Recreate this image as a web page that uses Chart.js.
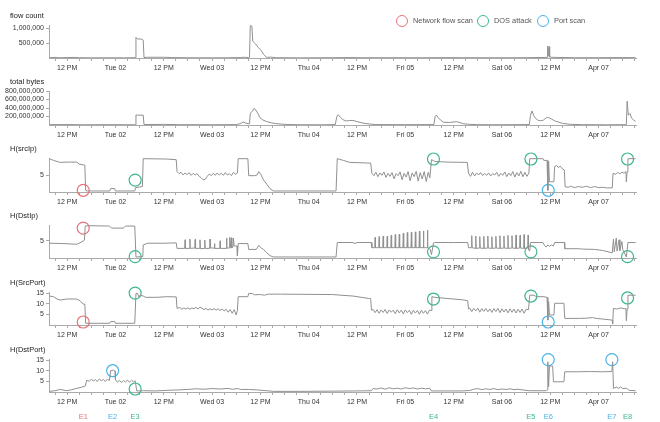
<!DOCTYPE html>
<html>
<head>
<meta charset="utf-8">
<script src="https://cdn.jsdelivr.net/npm/chart.js@4.4.0/dist/chart.umd.min.js"></script>
<style>
  body { margin: 0; background: #fff; }
  #wrap { position: relative; width: 660px; height: 422px; overflow: hidden; font-family: "Liberation Sans", Arial, sans-serif; }
  canvas.panel { position: absolute; left: 0; }
  .leg { position: absolute; top: 15px; height: 12px; line-height: 12px; font-size: 7.4px; color: #555; white-space: nowrap; }
  .leg i { display: inline-block; box-sizing: border-box; width: 12px; height: 12px; border: 1.2px solid; border-radius: 50%; vertical-align: top; margin-right: 5px; }
</style>
</head>
<body>
<div id="wrap"></div>
<script>
// time axis is in hours since Apr 01 00:00
const dayLabels = ['Tue 02', 'Wed 03', 'Thu 04', 'Fri 05', 'Sat 06', 'Apr 07'];

// [hour, value]
const flowCount = [[7.6,10000],[9,20000],[10,8000],[12,15000],[14,20000],[15,10000],[18,5000],[22,8000],[26,6000],[28.9,10000],
  [29.1,690000],[29.4,640000],[30.3,630000],[30.7,620000],[30.9,600000],[31.1,15000],[32,25000],[36,25000],[38,15000],[42,8000],
  [48,6000],[52,8000],[55,15000],[56,25000],[57,15000],[57.3,20000],[57.5,1080000],[57.9,1060000],[58.1,560000],[58.8,470000],
  [59.5,350000],[60.2,250000],[60.8,120000],[61.5,20000],[62.5,30000],[64,10000],[70,5000],[78,10000],[82,15000],[86,8000],
  [92,10000],[100,8000],[106,12000],[110,10000],[118,8000],[126,10000],[128,15000],[131.2,20000],[131.35,400000],[131.5,60000],
  [131.7,380000],[131.85,30000],[133,20000],[138,10000],[144,10000],[150,15000],[153.2,10000]];

const totalBytes = [[7.6,8e6],[12,10e6],[16,6e6],[22,8e6],[28.9,6e6],[29.1,235e6],[29.5,232e6],[30.9,230e6],[31.1,10e6],[36,15e6],
  [40,8e6],[48,6e6],[54,10e6],[55,30e6],[55.8,70e6],[56.5,40e6],[57.3,30e6],[57.5,280e6],[58,320e6],[58.4,390e6],[58.9,350e6],
  [59.4,270e6],[59.9,170e6],[60.6,120e6],[61.6,80e6],[62.8,50e6],[64.1,30e6],[66.6,12e6],[70,6e6],[76,5e6],[78.6,10e6],
  [79,200e6],[79.3,240e6],[79.8,190e6],[80.5,125e6],[81.3,95e6],[82.2,105e6],[83,108e6],[84,80e6],[85.5,45e6],[87,25e6],
  [88.5,10e6],[96,8e6],[103.1,10e6],[103.4,200e6],[103.7,235e6],[104.2,170e6],[104.7,120e6],[105.5,65e6],[107,60e6],
  [108.8,78e6],[109.8,50e6],[110.4,30e6],[112,15e6],[114,8e6],[120,6e6],[126.8,10e6],[127.1,230e6],[127.5,330e6],[127.9,220e6],
  [128.3,160e6],[129,110e6],[129.6,100e6],[130.3,115e6],[131,170e6],[131.6,175e6],[132.3,140e6],[133.3,90e6],[135,40e6],
  [137,15e6],[140,8e6],[146,5e6],[150.9,8e6],[151.1,560e6],[151.4,230e6],[151.8,270e6],[152.2,160e6],[152.7,120e6],[153.2,85e6]];

const srcIp = [[7.6,9.8],[8.6,9.3],[10.3,8.7],[12,8.8],[14.4,8.8],[15,8.2],[16,8.0],[16.4,7.9],[16.6,0.5],[17,0.3],[22.6,0.3],
  [22.8,1.0],[23.8,1.0],[24,0.3],[28.8,0.3],[29,1.3],[30.7,1.6],[30.9,9.8],[36.7,9.7],[39.1,9.5],[39.3,6.0],
  [39.8,5.4],[40.3,5.8],[40.8,5.0],[41.3,5.6],[41.8,5.1],[42.3,5.7],[42.8,4.9],[43.3,5.5],[43.8,5.0],[44.3,5.4],[44.8,4.6],
  [45.3,4.2],[45.8,3.6],[46.3,3.7],[46.8,4.6],[47.3,5.3],[47.8,4.8],[48.3,5.5],[48.8,4.9],[49.3,5.6],[49.8,5.0],[50.3,5.5],
  [50.8,4.9],[51.3,5.7],[51.8,5.0],[52.3,5.4],[52.8,4.8],[53.3,5.8],[53.8,5.2],[54.3,5.6],[54.5,9.8],[56.9,9.8],[57.1,4.8],
  [58.5,4.8],[59.2,5.0],[59.6,6.0],[60.1,5.2],[60.8,3.5],[61.6,2.3],[62.4,1.0],[63.2,0.3],[78.8,0.3],
  [79.1,9.8],[80.6,9.3],[82.2,8.7],[87.4,8.5],[87.7,5.5],[88.2,4.8],[88.7,5.8],[89.2,4.5],[89.7,5.6],[90.2,4.9],[90.7,5.9],
  [91.2,4.3],[91.7,5.5],[92.2,4.6],[92.7,5.7],[93.2,3.9],[93.7,5.4],[94.2,4.8],[94.7,5.9],[95.2,3.6],[95.7,5.5],[96.2,4.4],
  [96.7,6.0],[97.2,3.3],[97.7,5.6],[98.2,4.5],[98.7,6.1],[99.2,3.2],[99.7,5.7],[100.2,3.8],[100.7,6.0],[101.2,3.1],[101.7,5.8],
  [102.1,4.2],[102.5,9.5],[103.3,9.0],[106,8.8],[111.4,8.7],[111.7,5.5],
  [112.2,4.6],[112.7,5.8],[113.2,4.7],[113.7,5.6],[114.2,5.0],[114.7,5.7],[115.2,4.8],[115.7,5.5],[116.2,4.9],[116.7,5.6],
  [117.2,4.7],[117.7,5.4],[118.2,5.0],[118.7,5.8],[119.2,4.6],[119.7,5.5],[120.2,4.9],[120.7,5.9],[121.2,4.5],[121.7,5.6],
  [122.2,4.8],[122.7,6.0],[123.2,4.4],[123.7,5.7],[124.2,4.7],[124.7,6.1],[125.2,4.5],[125.7,5.8],[126.2,4.6],[126.7,5.6],
  [126.9,9.8],[130.2,9.8],[130.4,9.3],[131.2,9.3],[131.4,0.5],[131.6,9.0],[131.8,3.0],[132.9,3.0],[133.1,7.5],[133.6,7.8],
  [134,7.2],[134.5,7.6],[135,6.8],[135.5,6.5],[135.7,1.5],[136.5,1.4],[137,1.7],[138,1.3],[139,1.6],[140,1.4],[141,1.7],
  [142,1.3],[143,1.6],[144,1.3],[145,1.4],[146,1.2],[147.4,1.2],[147.6,5.5],[148.3,5.2],[148.8,5.8],[149.3,5.3],[149.8,5.9],
  [150.3,5.5],[150.8,6.0],[150.9,3.0],[151.1,6.0],[151.3,9.8],[153.2,9.8]];

const dstIp = [[7.6,4.3],[11,4.2],[14.4,4.0],[15.5,4.6],[16.3,5.2],[16.5,9.3],[17.2,9.4],[22.5,9.3],[23,8.7],[26,8.7],[26.5,9.3],
  [28.8,9.3],[29.1,0.3],[30.8,0.4],[30.9,3.8],[32,4.3],[36,4.3],[39.1,4.4],[39.3,2.8],
  [41.2,2.8],[41.3,5.3],[41.4,2.8],[42.4,2.8],[42.5,5.5],[42.6,2.8],[43.7,2.9],[43.8,5.4],[43.9,2.8],[44.9,2.8],[45,5.3],
  [45.1,2.7],[46.1,2.8],[46.2,5.2],[46.3,2.8],[47.4,2.8],[47.5,5.5],[47.6,2.9],[48.5,2.9],[48.6,4.2],[48.7,2.8],[49.9,2.8],
  [50,5.0],[50.1,2.8],[51.5,2.8],[51.6,5.8],[51.7,2.9],[52.3,2.9],[52.4,6.0],[52.5,3.0],[52.7,3.0],[52.8,5.9],[52.9,2.9],
  [53.2,3.2],[53.3,5.8],[53.5,3.5],[54.2,3.5],[54.3,0.6],[54.5,4.2],[56.9,4.2],[57.1,2.5],[59,2.5],[59.6,3.7],[60.1,3.0],
  [60.8,2.5],[61.6,1.5],[62.4,0.7],[63.2,0.3],[78.8,0.3],
  [79.1,4.5],[83,4.5],[83.5,4.2],[84,4.5],[87.5,4.5],[87.7,3.0],
  [88.4,3.0],[88.5,6.0],[88.6,3.0],[89.4,3.0],[89.5,6.2],[89.6,3.0],[90.4,3.0],[90.5,6.4],[90.6,3.0],[91.4,3.0],[91.5,6.3],
  [91.6,3.0],[92.4,3.0],[92.5,6.6],[92.6,3.0],[93.4,3.0],[93.5,6.8],[93.6,3.0],[94.4,3.0],[94.5,6.9],[94.6,3.0],[95.4,3.0],
  [95.5,7.2],[95.6,3.0],[96.4,3.0],[96.5,7.4],[96.6,3.0],[97.4,3.0],[97.5,7.5],[97.6,3.0],[98.4,3.0],[98.5,7.6],[98.6,3.0],
  [99.4,3.0],[99.5,7.8],[99.6,3.0],[100.4,3.0],[100.5,7.9],[100.6,3.0],[101.4,3.0],[101.5,8.1],[101.6,3.0],[102.2,2.5],
  [102.5,1.0],[103,4.4],[103.3,4.5],[108,4.5],[111.5,4.5],[111.7,3.0],
  [112.4,3.0],[112.5,6.5],[112.6,3.0],[113.4,2.8],[113.5,6.4],[113.6,2.8],[114.4,2.9],[114.5,6.2],[114.6,2.9],[115.4,2.8],
  [115.5,6.3],[115.6,2.8],[116.4,2.9],[116.5,6.4],[116.6,2.9],[117.4,2.8],[117.5,6.2],[117.6,2.8],[118.4,2.9],[118.5,6.3],
  [118.6,2.9],[119.4,2.8],[119.5,6.5],[119.6,2.8],[120.4,2.9],[120.5,6.4],[120.6,2.9],[121.4,2.8],[121.5,6.6],[121.6,2.8],
  [122.4,2.9],[122.5,6.5],[122.6,2.9],[123.4,2.8],[123.5,6.7],[123.6,2.8],[124.4,2.9],[124.5,6.6],[124.6,2.9],[125.4,2.8],
  [125.5,6.8],[125.6,2.8],[126.4,2.9],[126.5,6.7],[126.6,2.5],[126.9,2.0],[127.1,4.5],[130.2,4.5],[130.6,3.6],[131,3.2],
  [131.4,3.8],[131.8,3.4],[132.3,3.8],[132.8,3.5],[133.1,4.5],[135.5,4.5],[135.6,2.7],[139,2.7],[140,2.6],[143,2.5],
  [145,2.2],[147.4,1.5],[147.7,5.5],[147.9,1.8],[148.4,5.8],[148.6,2.0],[149.1,5.3],[149.3,2.2],[149.8,4.8],[150,2.5],
  [150.9,0.3],[151.3,4.5],[153.2,4.5]];

const srcPort = [[7.6,13.6],[8.6,13.3],[9.5,12.2],[10.3,11.7],[11.9,12.2],[14.4,12.2],[15.2,11.4],[16,9.8],[16.4,9.8],[16.6,0.8],
  [22.6,0.8],[22.8,1.6],[23.8,1.6],[24,0.8],[28.8,0.8],[29.1,14.8],[29.5,14.8],[29.8,13.2],[30.1,14.0],[30.9,13.6],[31.5,13.0],
  [34.3,13.0],[36.7,13.3],[39.1,13.2],[39.3,7.8],
  [40,8.2],[40.5,7.4],[41,8.0],[41.5,7.5],[42,8.1],[42.5,7.4],[43,8.0],[43.5,7.6],[44,8.3],[44.5,7.5],[45,8.4],[45.5,7.9],
  [46,7.2],[46.5,7.8],[47,7.0],[47.5,7.6],[48,7.1],[48.5,7.7],[49,7.0],[49.5,7.6],[50,6.8],[50.5,7.5],[51,6.6],[51.5,7.4],
  [52,6.0],[52.5,7.3],[53,5.5],[53.5,7.2],[54,4.7],[54.3,7.0],[54.5,13.3],[56.9,13.3],[57.1,14.8],[58,14.8],[58.5,14.2],
  [60,14.3],[61,14.0],[62,14.5],[65,14.5],[78,14.3],
  [80,14.0],[83,13.6],[86.8,12.5],[87.4,12.4],[87.6,7.0],
  [88,7.3],[88.5,5.8],[89,7.2],[89.5,5.5],[90,7.1],[90.5,5.9],[91,7.3],[91.5,5.4],[92,7.1],[92.5,6.0],[93,7.0],[93.5,5.3],
  [94,7.2],[94.5,5.7],[95,7.0],[95.5,5.2],[96,7.1],[96.5,5.8],[97,6.9],[97.5,5.0],[98,7.0],[98.5,5.6],[99,6.8],[99.5,5.0],
  [100,7.0],[100.5,5.5],[101,6.8],[101.5,5.1],[102,7.0],[102.4,6.8],[102.6,13.3],[103.3,13.0],[106.2,12.5],[110.3,11.8],
  [111.5,11.4],[111.7,7.5],
  [112,8.0],[112.5,6.3],[113,7.8],[113.5,6.6],[114,7.9],[114.5,6.0],[115,7.7],[115.5,6.4],[116,7.8],[116.5,6.2],[117,7.6],
  [117.5,5.9],[118,7.7],[118.5,6.3],[119,7.8],[119.5,5.8],[120,7.6],[120.5,6.1],[121,7.5],[121.5,5.7],[122,7.6],[122.5,6.0],
  [123,7.5],[123.5,5.6],[124,7.4],[124.5,5.9],[125,7.5],[125.5,5.5],[126,7.4],[126.6,7.2],[126.9,14.0],[128,14.0],[128.5,13.3],
  [130.2,13.3],[131.2,13.0],[131.4,2.3],[131.6,11.0],[131.8,4.7],[132.9,4.7],[133.1,10.2],[135.4,10.2],[135.6,3.1],[139.3,3.1],
  [141,3.2],[142.5,3.5],[143.4,3.1],[145,2.8],[147.4,2.3],[147.5,0.5],[147.7,7.8],[148.5,7.5],[149.5,8.0],[150.5,7.6],
  [150.8,7.8],[150.9,2.0],[151.1,7.5],[151.3,14.0],[153.2,14.0]];

const dstPort = [[7.6,0.3],[9,0.6],[10.3,1.2],[11.9,0.6],[13,1.0],[14.4,1.7],[15.5,2.2],[16.5,2.8],[16.9,5.6],[17.5,5.0],[18,6.0],
  [18.5,5.2],[19,5.8],[19.5,4.9],[20,6.1],[20.5,5.3],[21,5.9],[21.5,5.0],[22,6.0],[22.5,5.4],[22.8,10.0],[23.5,10.3],[23.9,9.8],
  [24,5.8],[24.5,4.6],[25,5.5],[25.5,4.5],[26,5.4],[26.5,4.7],[27,5.6],[27.5,4.6],[28,5.5],[28.5,4.8],[28.9,5.3],[29.3,0.5],
  [31,0.6],[34,0.5],[37,0.8],[40,1.0],[42,1.2],[44,1.5],[46,1.3],[48,1.6],[50,1.4],[52,1.7],[53,1.3],[54.5,1.6],[55,1.2],
  [57,1.2],[59,1.0],[61.6,0.6],[63.2,0.3],[70,0.3],[78,0.4],
  [84,0.5],[87.6,0.6],[88,1.6],[89,1.4],[90,1.9],[91,1.3],[92,2.0],[93,1.5],[94,1.8],[95,1.4],[96,2.0],[97,1.6],[98,1.9],
  [99,1.4],[100,1.8],[101,1.5],[102.1,1.7],[102.5,0.5],[106,0.5],[110,0.5],[112,0.7],[113,1.3],[114,1.6],[115,1.1],[116,1.5],
  [117,1.2],[118,1.6],[119,1.1],[120,1.4],[121,1.2],[122,1.5],[123,1.1],[124,1.3],[125,1.0],[126.9,0.6],[131,0.6],[131.2,1.0],
  [131.4,14.2],[131.6,2.5],[131.8,12.2],[132.6,12.2],[132.8,4.8],[135.4,4.8],[135.6,9.5],[139,9.5],[142,9.6],[145,9.5],
  [147.3,9.6],[147.5,14.2],[147.7,1.7],[148.5,2.3],[149,1.7],[149.5,2.4],[150,1.6],[151,1.8],[151.5,0.8],[153.2,0.6]];

// events
const eventNames = ['E1', 'E2', 'E3', 'E4', 'E5', 'E6', 'E7', 'E8'];
const eventHours = [16.0, 23.3, 28.9, 103.0, 127.2, 131.5, 147.3, 151.2];
const eventKinds = ['flow', 'port', 'dos', 'dos', 'dos', 'port', 'port', 'dos'];
const kindLabels = { flow: 'Network flow scan', dos: 'DOS attack', port: 'Port scan' };
const kindColors = { flow: '#e8737a', dos: '#3db88a', port: '#4ab3e6' };

// [event index, value where the circle sits]
const srcIpMarks = [[0,0.5],[2,3.5],[3,9.7],[4,9.7],[5,0.5],[7,9.7]];
const dstIpMarks = [[0,8.7],[2,0.4],[3,1.8],[4,1.8],[7,0.4]];
const srcPortMarks = [[0,1.4],[2,15.0],[3,12.2],[4,13.6],[5,1.4],[7,12.7]];
const dstPortMarks = [[1,10.0],[2,1.4],[5,15.2],[6,15.2]];

const xTickHours = [];
for (let h = 9; h <= 153; h += 3) xTickHours.push(h);

const FONT = '"Liberation Sans", Arial, sans-serif';
const wrap = document.getElementById('wrap');

function hourLabel(v) {
  if (v % 24 === 12) return '12 PM';
  if (v % 24 === 0) return dayLabels[v / 24 - 1] || '';
  return '';
}

// panel title + event labels under the last panel
const panelText = {
  id: 'panelText',
  afterDraw(chart, args, opts) {
    const { ctx } = chart;
    ctx.save();
    ctx.font = '7.5px ' + FONT;
    ctx.fillStyle = '#222';
    ctx.textBaseline = 'middle';
    ctx.fillText(opts.title, 10, 11);
    if (opts.events) {
      const xs = chart.scales.x;
      ctx.textAlign = 'center';
      eventNames.forEach((n, i) => {
        ctx.fillStyle = kindColors[eventKinds[i]];
        ctx.fillText(n, xs.getPixelForValue(eventHours[i]), chart.chartArea.bottom + 25);
      });
    }
    ctx.restore();
  },
};

const panels = [
  { title: 'flow count', data: flowCount, top: 25, bottom: 58, max: 1100000, yTicks: [500000, 1000000] },
  { title: 'total bytes', data: totalBytes, top: 91, bottom: 125, max: 800000000, yTicks: [200000000, 400000000, 600000000, 800000000] },
  { title: 'H(srcIp)', data: srcIp, marks: srcIpMarks, top: 158, bottom: 192, max: 10, yTicks: [5] },
  { title: 'H(DstIp)', data: dstIp, marks: dstIpMarks, top: 225, bottom: 258, max: 9.6, yTicks: [5] },
  { title: 'H(SrcPort)', data: srcPort, marks: srcPortMarks, top: 292, bottom: 325, max: 15.5, yTicks: [5, 10, 15] },
  { title: 'H(DstPort)', data: dstPort, marks: dstPortMarks, top: 359, bottom: 392, max: 15.5, yTicks: [5, 10, 15] },
];

panels.forEach((p, idx) => {
  const last = idx === panels.length - 1;
  const padBottom = last ? 16 : 0;
  const h = 20 + (p.bottom - p.top) + 18 + padBottom;
  const canvas = document.createElement('canvas');
  canvas.className = 'panel';
  canvas.width = 660;
  canvas.height = h;
  canvas.style.width = '660px';
  canvas.style.height = h + 'px';
  canvas.style.top = (p.top - 20) + 'px';
  wrap.appendChild(canvas);

  const datasets = [{
    data: p.data.map(([x, y]) => ({ x, y })),
    borderColor: '#909090',
    borderWidth: 1,
    pointRadius: 0,
    tension: 0,
    fill: false,
  }];
  if (p.marks) {
    datasets.push({
      data: p.marks.map(([i, y]) => ({ x: eventHours[i], y })),
      showLine: false,
      pointRadius: 6,
      pointBorderWidth: 1.2,
      pointBackgroundColor: 'rgba(0,0,0,0)',
      pointBorderColor: p.marks.map(([i]) => kindColors[eventKinds[i]]),
      clip: false,
    });
  }

  new Chart(canvas, {
    type: 'line',
    data: { datasets },
    plugins: [panelText],
    options: {
      responsive: false,
      animation: false,
      devicePixelRatio: 1,
      events: [],
      layout: { padding: { top: 20, right: 24, bottom: padBottom, left: 0 } },
      plugins: {
        legend: { display: false },
        tooltip: { enabled: false },
        panelText: { title: p.title, events: last },
      },
      scales: {
        x: {
          type: 'linear',
          min: 7.5,
          max: 153.3,
          afterBuildTicks: (s) => { s.ticks = xTickHours.map((v) => ({ value: v })); },
          afterFit: (s) => { s.height = 18; },
          ticks: {
            autoSkip: false,
            maxRotation: 0,
            padding: 3,
            color: '#333',
            font: { size: 7, family: FONT },
            callback: (v) => hourLabel(v),
          },
          grid: { drawOnChartArea: false, tickLength: 3, color: '#aaa' },
          border: { color: '#aaa' },
        },
        y: {
          min: 0,
          max: p.max,
          afterBuildTicks: (s) => { s.ticks = p.yTicks.map((v) => ({ value: v })); },
          afterFit: (s) => { s.width = 49; },
          ticks: {
            autoSkip: false,
            padding: 2,
            color: '#333',
            font: { size: 7, family: FONT },
            callback: (v) => v.toLocaleString('en-US'),
          },
          grid: { drawOnChartArea: false, tickLength: 3, color: '#aaa' },
          border: { color: '#aaa' },
        },
      },
    },
  });
});

// legend
const legLeft = { flow: 396, dos: 477, port: 537 };
Object.keys(kindLabels).forEach((k) => {
  const d = document.createElement('div');
  d.className = 'leg';
  d.style.left = legLeft[k] + 'px';
  const c = document.createElement('i');
  c.style.borderColor = kindColors[k];
  d.appendChild(c);
  d.appendChild(document.createTextNode(kindLabels[k]));
  wrap.appendChild(d);
});
</script>
</body>
</html>
